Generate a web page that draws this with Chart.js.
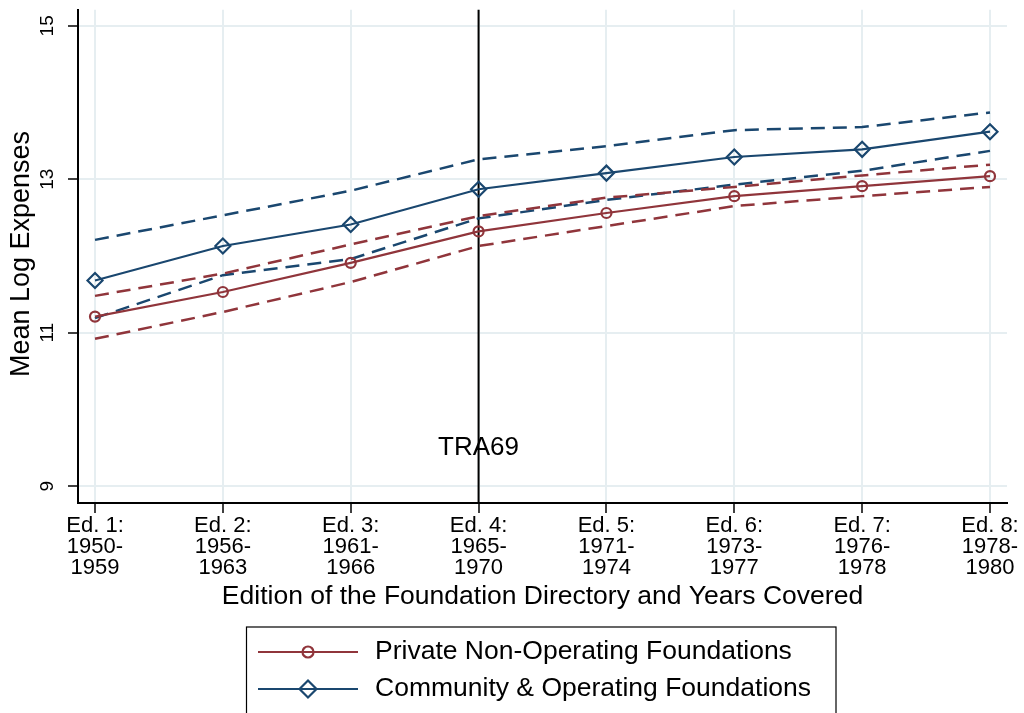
<!DOCTYPE html>
<html>
<head>
<meta charset="utf-8">
<script src="https://cdn.jsdelivr.net/npm/chart.js@4.4.1/dist/chart.umd.min.js"></script>
<style>
  html, body { margin: 0; padding: 0; background: #fff; }
  #wrap { width: 1024px; height: 713px; }
</style>
</head>
<body>
<div id="wrap"><canvas id="grafico" width="1024" height="713"></canvas></div>
<script>
// Datos
const editionLabels = [
  ["Ed. 1:", "1950-", "1959"],
  ["Ed. 2:", "1956-", "1963"],
  ["Ed. 3:", "1961-", "1966"],
  ["Ed. 4:", "1965-", "1970"],
  ["Ed. 5:", "1971-", "1974"],
  ["Ed. 6:", "1973-", "1977"],
  ["Ed. 7:", "1976-", "1978"],
  ["Ed. 8:", "1978-", "1980"]
];
const privateMean  = [11.21, 11.53, 11.91, 12.32, 12.56, 12.78, 12.91, 13.04];
const privateUpper = [11.48, 11.77, 12.15, 12.52, 12.76, 12.90, 13.05, 13.19];
const privateLower = [10.92, 11.27, 11.66, 12.13, 12.39, 12.65, 12.78, 12.90];
const communityMean  = [11.68, 12.13, 12.41, 12.87, 13.08, 13.29, 13.39, 13.62];
const communityUpper = [12.21, 12.53, 12.85, 13.26, 13.43, 13.64, 13.68, 13.87];
const communityLower = [11.19, 11.75, 11.96, 12.49, 12.73, 12.93, 13.11, 13.37];
const yTicks = [9, 11, 13, 15];
const tra69Index = 3;
const tra69Label = "TRA69";
const seriesNames = ["Private Non-Operating Foundations", "Community & Operating Foundations"];

const RED = "#90353b";
const BLUE = "#1a476f";
const GRID = "#e6eef1";
const FONT = "'Liberation Sans', Arial, sans-serif";

const toPoints = (arr) => arr.map((v, i) => ({ x: i, y: v }));

const solid = (data, color, style, radius) => ({
  data: toPoints(data),
  borderColor: color,
  borderWidth: 2.2,
  backgroundColor: "rgba(0,0,0,0)",
  pointStyle: style,
  pointRadius: radius,
  pointBorderWidth: 2.2,
  pointBorderColor: color,
  pointBackgroundColor: "rgba(0,0,0,0)",
  tension: 0
});

const dashed = (data, color) => ({
  data: toPoints(data),
  borderColor: color,
  borderWidth: 2.5,
  borderDash: [14, 8],
  pointRadius: 0,
  tension: 0
});

// Dibuja textos rotados, linea TRA69 y leyenda con caja
const decorPlugin = {
  id: "decor",
  beforeDatasetsDraw(chart) {
    const { ctx, chartArea, scales } = chart;
    const x = scales.x.getPixelForValue(tra69Index);
    ctx.save();
    ctx.strokeStyle = "#000";
    ctx.lineWidth = 2;
    ctx.beginPath();
    ctx.moveTo(x, chartArea.top);
    ctx.lineTo(x, chartArea.bottom);
    ctx.stroke();
    ctx.restore();
  },
  afterDraw(chart) {
    const { ctx, chartArea, scales } = chart;
    ctx.save();
    ctx.fillStyle = "#000";

    // etiquetas eje y (rotadas)
    ctx.font = "19px " + FONT;
    ctx.textAlign = "center";
    ctx.textBaseline = "middle";
    yTicks.forEach(v => {
      const y = scales.y.getPixelForValue(v);
      ctx.save();
      ctx.translate(48, y);
      ctx.rotate(-Math.PI / 2);
      ctx.fillText(String(v), 0, 0);
      ctx.restore();
    });

    // titulo eje y
    ctx.font = "27px " + FONT;
    ctx.save();
    ctx.translate(22, 254);
    ctx.rotate(-Math.PI / 2);
    ctx.fillText("Mean Log Expenses", 0, 0);
    ctx.restore();

    // titulo eje x
    ctx.font = "26.5px " + FONT;
    ctx.fillText("Edition of the Foundation Directory and Years Covered",
      (chartArea.left + chartArea.right) / 2, 597);

    // texto TRA69
    ctx.font = "26px " + FONT;
    ctx.fillText(tra69Label, scales.x.getPixelForValue(tra69Index), 448);

    // leyenda
    ctx.strokeStyle = "#000";
    ctx.lineWidth = 1.2;
    ctx.strokeRect(246.5, 627, 589.5, 100);
    const rows = [
      { y: 652, color: RED, style: "circle" },
      { y: 689, color: BLUE, style: "rectRot" }
    ];
    const mx = 308;
    ctx.font = "26.5px " + FONT;
    ctx.textAlign = "left";
    rows.forEach((r, i) => {
      ctx.strokeStyle = r.color;
      ctx.lineWidth = 2.2;
      ctx.beginPath();
      ctx.moveTo(258, r.y);
      ctx.lineTo(358, r.y);
      ctx.stroke();
      ctx.beginPath();
      if (r.style === "circle") {
        ctx.arc(mx, r.y, 5.5, 0, Math.PI * 2);
      } else {
        ctx.moveTo(mx - 8.5, r.y);
        ctx.lineTo(mx, r.y - 8.5);
        ctx.lineTo(mx + 8.5, r.y);
        ctx.lineTo(mx, r.y + 8.5);
        ctx.closePath();
      }
      ctx.stroke();
      ctx.fillStyle = "#000";
      ctx.fillText(seriesNames[i], 375, r.y);
    });
    ctx.restore();
  }
};

const ctx = document.getElementById("grafico");
new Chart(ctx, {
  type: "line",
  data: {
    datasets: [
      solid(privateMean, RED, "circle", 5),
      solid(communityMean, BLUE, "rectRot", 7.5),
      dashed(privateUpper, RED),
      dashed(privateLower, RED),
      dashed(communityUpper, BLUE),
      dashed(communityLower, BLUE)
    ]
  },
  options: {
    responsive: false,
    animation: false,
    devicePixelRatio: 1,
    layout: { padding: { top: 9, right: 17, left: 0, bottom: 0 } },
    plugins: {
      legend: { display: false },
      tooltip: { enabled: false }
    },
    scales: {
      x: {
        type: "linear",
        min: -0.133,
        max: 7.133,
        afterBuildTicks: (scale) => {
          scale.ticks = editionLabels.map((_, i) => ({ value: i }));
        },
        afterFit: (scale) => { scale.height = 210; },
        ticks: {
          autoSkip: false,
          maxRotation: 0,
          minRotation: 0,
          padding: 2,
          color: "#000",
          font: { family: FONT, size: 22, lineHeight: 0.97 },
          callback: (value) => editionLabels[value]
        },
        grid: { color: GRID, lineWidth: 2, tickColor: "#000", tickWidth: 1.5, tickLength: 10 },
        border: { color: "#000", width: 2 }
      },
      y: {
        min: 8.78,
        max: 15.21,
        afterBuildTicks: (scale) => {
          scale.ticks = yTicks.map(v => ({ value: v }));
        },
        afterFit: (scale) => { scale.width = 78; },
        ticks: { display: false },
        grid: { color: GRID, lineWidth: 2, tickColor: "#000", tickWidth: 1.5, tickLength: 10 },
        border: { color: "#000", width: 2 }
      }
    }
  },
  plugins: [decorPlugin]
});
</script>
</body>
</html>
